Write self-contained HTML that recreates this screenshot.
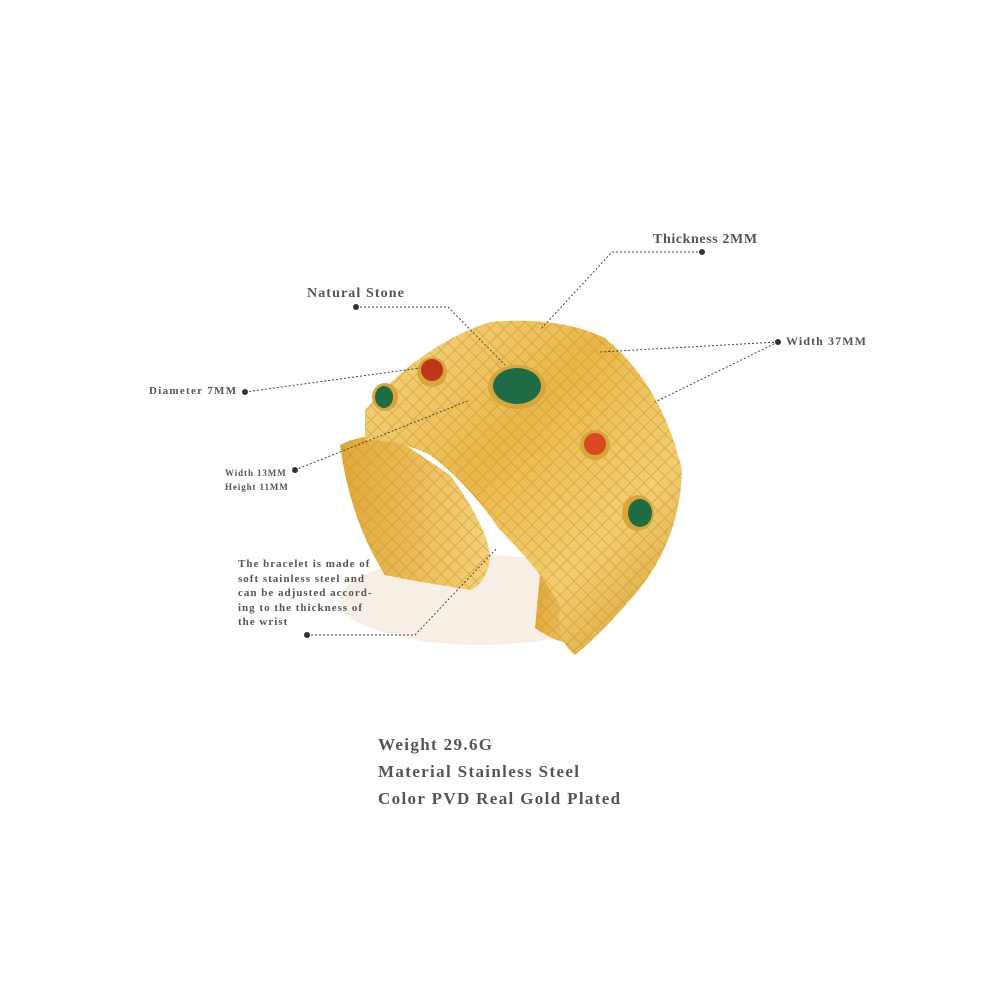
<!DOCTYPE html>
<html><head><style>
body{margin:0;background:#fff;}
.w{position:relative;width:1000px;height:1000px;overflow:hidden;font-family:"Liberation Serif",serif;color:#555;}
.t{position:absolute;font-weight:bold;white-space:nowrap;}
</style></head><body><div class="w">
<svg width="1000" height="1000" style="position:absolute;left:0;top:0">
<defs>
<linearGradient id="g" x1="0" y1="0" x2="1" y2="1">
<stop offset="0" stop-color="#f7d98a"/><stop offset="0.4" stop-color="#e9b84a"/><stop offset="0.7" stop-color="#f3cf72"/><stop offset="1" stop-color="#d49a2c"/></linearGradient>
<linearGradient id="gi" x1="0" y1="0" x2="1" y2="0">
<stop offset="0" stop-color="#e0a83a"/><stop offset="1" stop-color="#f5d27a"/></linearGradient>
<pattern id="p" width="14" height="14" patternUnits="userSpaceOnUse">
<path d="M0 7L7 0L14 7L7 14Z" fill="none" stroke="#c98f2a" stroke-width="0.8" opacity="0.6"/></pattern>
</defs>
<ellipse cx="480" cy="600" rx="140" ry="45" fill="#f3e7dc" opacity="0.7"/>
<!-- inner left -->
<path d="M340 445 Q365 432 395 438 L450 475 Q490 530 490 560 Q485 585 470 590 L410 580 L385 575 Q350 520 340 445Z" fill="url(#gi)"/>
<path d="M340 445 Q365 432 395 438 L450 475 Q490 530 490 560 Q485 585 470 590 L410 580 L385 575 Q350 520 340 445Z" fill="url(#p)"/>
<!-- right inner -->
<path d="M540 575 Q565 560 590 575 L580 645 Q560 645 535 628Z" fill="url(#gi)"/>
<path d="M540 575 Q565 560 590 575 L580 645 Q560 645 535 628Z" fill="url(#p)"/>
<!-- front face -->
<path d="M365 410 Q420 345 490 322 Q560 316 605 338 Q662 385 682 470 Q680 545 630 600 Q600 635 575 655 Q555 640 560 605 Q540 570 500 530 Q465 480 430 455 Q400 440 365 440 Z" fill="url(#g)"/>
<path d="M365 410 Q420 345 490 322 Q560 316 605 338 Q662 385 682 470 Q680 545 630 600 Q600 635 575 655 Q555 640 560 605 Q540 570 500 530 Q465 480 430 455 Q400 440 365 440 Z" fill="url(#p)"/>
<!-- stones -->
<ellipse cx="517" cy="387" rx="29" ry="22" fill="#d9a63c"/><ellipse cx="517" cy="386" rx="24" ry="18" fill="#1f6b43"/>
<ellipse cx="638" cy="513" rx="16" ry="18" fill="#d9a63c"/><ellipse cx="640" cy="513" rx="12" ry="14" fill="#1f6b43"/>
<ellipse cx="385" cy="397" rx="13" ry="14" fill="#d9a63c"/><ellipse cx="384" cy="397" rx="9" ry="11" fill="#1f6b43"/>
<circle cx="432" cy="372" r="15" fill="#d9a63c"/><circle cx="432" cy="370" r="11" fill="#c0341c"/>
<circle cx="595" cy="445" r="15" fill="#d9a63c"/><circle cx="595" cy="444" r="11" fill="#d9481f"/>
<g stroke="#444" stroke-width="1" stroke-dasharray="2,2" fill="none">
<path d="M356 307 H448 L505 365"/>
<path d="M702 252 H612 L540 330"/>
<path d="M778 342 L600 352"/><path d="M778 342 L655 402"/>
<path d="M245 392 L420 368"/>
<path d="M295 470 L470 400"/>
<path d="M307 635 H415 L497 548"/>
</g>
<g fill="#333"><circle cx="356" cy="307" r="3"/><circle cx="702" cy="252" r="3"/><circle cx="778" cy="342" r="3"/><circle cx="245" cy="392" r="3"/><circle cx="295" cy="470" r="3"/><circle cx="307" cy="635" r="3"/></g>
</svg>
<div class="t" style="left:307px;top:286px;font-size:14px;letter-spacing:1.1px">Natural Stone</div>
<div class="t" style="left:653px;top:232px;font-size:14px;letter-spacing:0.6px">Thickness 2MM</div>
<div class="t" style="left:786px;top:334px;font-size:12px;letter-spacing:1.1px">Width 37MM</div>
<div class="t" style="left:149px;top:385px;font-size:11px;letter-spacing:1.3px">Diameter 7MM</div>
<div class="t" style="left:225px;top:466px;font-size:9px;line-height:14px;letter-spacing:0.9px">Width 13MM<br>Height 11MM</div>
<div class="t" style="left:238px;top:557px;font-size:11px;line-height:14.6px;letter-spacing:1px">The bracelet is made of<br>soft stainless steel and<br>can be adjusted accord-<br>ing to the thickness of<br>the wrist</div>
<div class="t" style="left:378px;top:731px;font-size:17px;line-height:27px;letter-spacing:1.35px">Weight 29.6G<br>Material Stainless Steel<br>Color PVD Real Gold Plated</div>
</div></body></html>
